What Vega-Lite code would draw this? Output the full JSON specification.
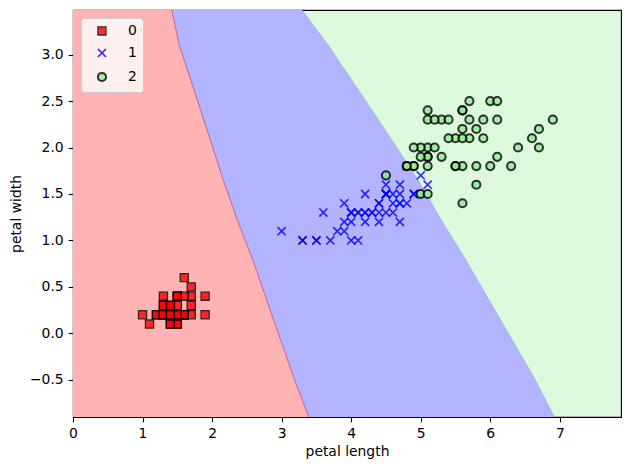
{
  "$schema": "https://vega.github.io/schema/vega-lite/v6.json",
  "width": 548,
  "height": 407,
  "autosize": "none",
  "padding": {"left": 73, "top": 10, "right": 9, "bottom": 53},
  "background": "white",
  "config": {
    "font": "DejaVu Sans",
    "view": {"stroke": "black", "strokeWidth": 1.1, "fill": "#ddf8dd"},
    "axis": {
      "grid": false,
      "labelFlush": false,
      "domainColor": "black",
      "domainWidth": 1.1,
      "tickColor": "black",
      "tickWidth": 1.1,
      "tickSize": 4.9,
      "labelPadding": 4.9,
      "labelFont": "DejaVu Sans",
      "labelFontSize": 13.9,
      "labelColor": "black",
      "titleFont": "DejaVu Sans",
      "titleFontSize": 13.9,
      "titleFontWeight": "normal",
      "titleColor": "black"
    }
  },
  "datasets": {
    "regions": [
      {"y": -0.9, "b1": 3.39, "b2": 6.92},
      {"y": -0.49, "b1": 3.18, "b2": 6.64},
      {"y": 0.8, "b1": 2.58, "b2": 5.64},
      {"y": 1.225, "b1": 2.36, "b2": 5.29},
      {"y": 1.653, "b1": 2.16, "b2": 4.96},
      {"y": 2.3, "b1": 1.88, "b2": 4.39},
      {"y": 3.1, "b1": 1.53, "b2": 3.67},
      {"y": 3.48, "b1": 1.42, "b2": 3.29}
    ],
    "iris": [
      {"pl": 1.4, "pw": 0.2, "c": "0"}, {"pl": 1.4, "pw": 0.2, "c": "0"}, {"pl": 1.3, "pw": 0.2, "c": "0"},
      {"pl": 1.5, "pw": 0.2, "c": "0"}, {"pl": 1.4, "pw": 0.2, "c": "0"}, {"pl": 1.7, "pw": 0.4, "c": "0"},
      {"pl": 1.4, "pw": 0.3, "c": "0"}, {"pl": 1.5, "pw": 0.2, "c": "0"}, {"pl": 1.4, "pw": 0.2, "c": "0"},
      {"pl": 1.5, "pw": 0.1, "c": "0"}, {"pl": 1.5, "pw": 0.2, "c": "0"}, {"pl": 1.6, "pw": 0.2, "c": "0"},
      {"pl": 1.4, "pw": 0.1, "c": "0"}, {"pl": 1.1, "pw": 0.1, "c": "0"}, {"pl": 1.2, "pw": 0.2, "c": "0"},
      {"pl": 1.5, "pw": 0.4, "c": "0"}, {"pl": 1.3, "pw": 0.4, "c": "0"}, {"pl": 1.4, "pw": 0.3, "c": "0"},
      {"pl": 1.7, "pw": 0.3, "c": "0"}, {"pl": 1.5, "pw": 0.3, "c": "0"}, {"pl": 1.7, "pw": 0.2, "c": "0"},
      {"pl": 1.5, "pw": 0.4, "c": "0"}, {"pl": 1.0, "pw": 0.2, "c": "0"}, {"pl": 1.7, "pw": 0.5, "c": "0"},
      {"pl": 1.9, "pw": 0.2, "c": "0"}, {"pl": 1.6, "pw": 0.2, "c": "0"}, {"pl": 1.6, "pw": 0.4, "c": "0"},
      {"pl": 1.5, "pw": 0.2, "c": "0"}, {"pl": 1.4, "pw": 0.2, "c": "0"}, {"pl": 1.6, "pw": 0.2, "c": "0"},
      {"pl": 1.6, "pw": 0.2, "c": "0"}, {"pl": 1.5, "pw": 0.4, "c": "0"}, {"pl": 1.5, "pw": 0.1, "c": "0"},
      {"pl": 1.4, "pw": 0.2, "c": "0"}, {"pl": 1.5, "pw": 0.2, "c": "0"}, {"pl": 1.2, "pw": 0.2, "c": "0"},
      {"pl": 1.3, "pw": 0.2, "c": "0"}, {"pl": 1.4, "pw": 0.1, "c": "0"}, {"pl": 1.3, "pw": 0.2, "c": "0"},
      {"pl": 1.5, "pw": 0.2, "c": "0"}, {"pl": 1.3, "pw": 0.3, "c": "0"}, {"pl": 1.3, "pw": 0.3, "c": "0"},
      {"pl": 1.3, "pw": 0.2, "c": "0"}, {"pl": 1.6, "pw": 0.6, "c": "0"}, {"pl": 1.9, "pw": 0.4, "c": "0"},
      {"pl": 1.4, "pw": 0.3, "c": "0"}, {"pl": 1.6, "pw": 0.2, "c": "0"}, {"pl": 1.4, "pw": 0.2, "c": "0"},
      {"pl": 1.5, "pw": 0.2, "c": "0"}, {"pl": 1.4, "pw": 0.2, "c": "0"},
      {"pl": 4.7, "pw": 1.4, "c": "1"}, {"pl": 4.5, "pw": 1.5, "c": "1"}, {"pl": 4.9, "pw": 1.5, "c": "1"},
      {"pl": 4.0, "pw": 1.3, "c": "1"}, {"pl": 4.6, "pw": 1.5, "c": "1"}, {"pl": 4.5, "pw": 1.3, "c": "1"},
      {"pl": 4.7, "pw": 1.6, "c": "1"}, {"pl": 3.3, "pw": 1.0, "c": "1"}, {"pl": 4.6, "pw": 1.3, "c": "1"},
      {"pl": 3.9, "pw": 1.4, "c": "1"}, {"pl": 3.5, "pw": 1.0, "c": "1"}, {"pl": 4.2, "pw": 1.5, "c": "1"},
      {"pl": 4.0, "pw": 1.0, "c": "1"}, {"pl": 4.7, "pw": 1.4, "c": "1"}, {"pl": 3.6, "pw": 1.3, "c": "1"},
      {"pl": 4.4, "pw": 1.4, "c": "1"}, {"pl": 4.5, "pw": 1.5, "c": "1"}, {"pl": 4.1, "pw": 1.0, "c": "1"},
      {"pl": 4.5, "pw": 1.5, "c": "1"}, {"pl": 3.9, "pw": 1.1, "c": "1"}, {"pl": 4.8, "pw": 1.8, "c": "1"},
      {"pl": 4.0, "pw": 1.3, "c": "1"}, {"pl": 4.9, "pw": 1.5, "c": "1"}, {"pl": 4.7, "pw": 1.2, "c": "1"},
      {"pl": 4.3, "pw": 1.3, "c": "1"}, {"pl": 4.4, "pw": 1.4, "c": "1"}, {"pl": 4.8, "pw": 1.4, "c": "1"},
      {"pl": 5.0, "pw": 1.7, "c": "1"}, {"pl": 4.5, "pw": 1.5, "c": "1"}, {"pl": 3.5, "pw": 1.0, "c": "1"},
      {"pl": 3.8, "pw": 1.1, "c": "1"}, {"pl": 3.7, "pw": 1.0, "c": "1"}, {"pl": 3.9, "pw": 1.2, "c": "1"},
      {"pl": 5.1, "pw": 1.6, "c": "1"}, {"pl": 4.5, "pw": 1.5, "c": "1"}, {"pl": 4.5, "pw": 1.6, "c": "1"},
      {"pl": 4.7, "pw": 1.5, "c": "1"}, {"pl": 4.4, "pw": 1.3, "c": "1"}, {"pl": 4.1, "pw": 1.3, "c": "1"},
      {"pl": 4.0, "pw": 1.3, "c": "1"}, {"pl": 4.4, "pw": 1.2, "c": "1"}, {"pl": 4.6, "pw": 1.4, "c": "1"},
      {"pl": 4.0, "pw": 1.2, "c": "1"}, {"pl": 3.3, "pw": 1.0, "c": "1"}, {"pl": 4.2, "pw": 1.3, "c": "1"},
      {"pl": 4.2, "pw": 1.2, "c": "1"}, {"pl": 4.2, "pw": 1.3, "c": "1"}, {"pl": 4.3, "pw": 1.3, "c": "1"},
      {"pl": 3.0, "pw": 1.1, "c": "1"}, {"pl": 4.1, "pw": 1.3, "c": "1"},
      {"pl": 6.0, "pw": 2.5, "c": "2"}, {"pl": 5.1, "pw": 1.9, "c": "2"}, {"pl": 5.9, "pw": 2.1, "c": "2"},
      {"pl": 5.6, "pw": 1.8, "c": "2"}, {"pl": 5.8, "pw": 2.2, "c": "2"}, {"pl": 6.6, "pw": 2.1, "c": "2"},
      {"pl": 4.5, "pw": 1.7, "c": "2"}, {"pl": 6.3, "pw": 1.8, "c": "2"}, {"pl": 5.8, "pw": 1.8, "c": "2"},
      {"pl": 6.1, "pw": 2.5, "c": "2"}, {"pl": 5.1, "pw": 2.0, "c": "2"}, {"pl": 5.3, "pw": 1.9, "c": "2"},
      {"pl": 5.5, "pw": 2.1, "c": "2"}, {"pl": 5.0, "pw": 2.0, "c": "2"}, {"pl": 5.1, "pw": 2.4, "c": "2"},
      {"pl": 5.3, "pw": 2.3, "c": "2"}, {"pl": 5.5, "pw": 1.8, "c": "2"}, {"pl": 6.7, "pw": 2.2, "c": "2"},
      {"pl": 6.9, "pw": 2.3, "c": "2"}, {"pl": 5.0, "pw": 1.5, "c": "2"}, {"pl": 5.7, "pw": 2.3, "c": "2"},
      {"pl": 4.9, "pw": 2.0, "c": "2"}, {"pl": 6.7, "pw": 2.0, "c": "2"}, {"pl": 4.9, "pw": 1.8, "c": "2"},
      {"pl": 5.7, "pw": 2.1, "c": "2"}, {"pl": 6.0, "pw": 1.8, "c": "2"}, {"pl": 4.8, "pw": 1.8, "c": "2"},
      {"pl": 4.9, "pw": 1.8, "c": "2"}, {"pl": 5.6, "pw": 2.1, "c": "2"}, {"pl": 5.8, "pw": 1.6, "c": "2"},
      {"pl": 6.1, "pw": 1.9, "c": "2"}, {"pl": 6.4, "pw": 2.0, "c": "2"}, {"pl": 5.6, "pw": 2.2, "c": "2"},
      {"pl": 5.1, "pw": 1.5, "c": "2"}, {"pl": 5.6, "pw": 1.4, "c": "2"}, {"pl": 6.1, "pw": 2.3, "c": "2"},
      {"pl": 5.6, "pw": 2.4, "c": "2"}, {"pl": 5.5, "pw": 1.8, "c": "2"}, {"pl": 4.8, "pw": 1.8, "c": "2"},
      {"pl": 5.4, "pw": 2.1, "c": "2"}, {"pl": 5.6, "pw": 2.4, "c": "2"}, {"pl": 5.1, "pw": 2.3, "c": "2"},
      {"pl": 5.1, "pw": 1.9, "c": "2"}, {"pl": 5.9, "pw": 2.3, "c": "2"}, {"pl": 5.7, "pw": 2.5, "c": "2"},
      {"pl": 5.2, "pw": 2.3, "c": "2"}, {"pl": 5.0, "pw": 1.9, "c": "2"}, {"pl": 5.2, "pw": 2.0, "c": "2"},
      {"pl": 5.4, "pw": 2.3, "c": "2"}, {"pl": 5.1, "pw": 1.8, "c": "2"}
    ]
  },
  "layer": [
    {
      "description": "class 0 decision region: from the left edge to the first boundary",
      "data": {"name": "regions"},
      "mark": {"type": "area", "orient": "horizontal", "color": "#ffb3b3", "opacity": 1, "clip": true},
      "encoding": {
        "y": {"field": "y", "type": "quantitative", "title": "petal width",
              "scale": {"domain": [-0.9, 3.48], "nice": false, "zero": false},
              "axis": {"values": [-0.5, 0, 0.5, 1, 1.5, 2, 2.5, 3], "format": ".1f", "titlePadding": 6}},
        "x": {"field": "b1", "type": "quantitative", "title": "petal length",
              "scale": {"domain": [0, 7.88], "nice": false, "zero": false},
              "axis": {"values": [0, 1, 2, 3, 4, 5, 6, 7], "format": "d", "titlePadding": 4}}
      }
    },
    {
      "description": "class 1 decision region: between the two boundaries",
      "data": {"name": "regions"},
      "mark": {"type": "area", "orient": "horizontal", "color": "#b3b3ff", "opacity": 1, "clip": true},
      "encoding": {
        "y": {"field": "y", "type": "quantitative", "title": "petal width"},
        "x": {"field": "b1", "type": "quantitative", "title": "petal length"},
        "x2": {"field": "b2"}
      }
    },
    {
      "data": {"name": "regions"},
      "mark": {"type": "line", "color": "#d0457a", "strokeWidth": 1, "opacity": 0.8, "clip": true},
      "encoding": {
        "y": {"field": "y", "type": "quantitative", "title": "petal width"},
        "x": {"field": "b1", "type": "quantitative", "title": "petal length"},
        "order": {"field": "y", "type": "quantitative"}
      }
    },
    {
      "data": {"name": "regions"},
      "mark": {"type": "line", "color": "#88bfd8", "strokeWidth": 1, "opacity": 0.8, "clip": true},
      "encoding": {
        "y": {"field": "y", "type": "quantitative", "title": "petal width"},
        "x": {"field": "b2", "type": "quantitative", "title": "petal length"},
        "order": {"field": "y", "type": "quantitative"}
      }
    },
    {
      "description": "samples by class",
      "data": {"name": "iris"},
      "mark": {"type": "point", "filled": true, "size": 66, "opacity": 0.8, "clip": true},
      "encoding": {
        "x": {"field": "pl", "type": "quantitative", "title": "petal length"},
        "y": {"field": "pw", "type": "quantitative", "title": "petal width"},
        "shape": {"field": "c", "type": "nominal",
                  "scale": {"domain": ["0", "1", "2"], "range": ["square", "M-1,-1L1,1M-1,1L1,-1", "circle"]},
                  "legend": {
                    "title": null, "orient": "none", "legendX": 8, "legendY": 8,
                    "padding": 6, "symbolOffset": 8, "labelOffset": 19, "rowPadding": 7,
                    "symbolSize": 66, "symbolOpacity": 0.8,
                    "labelFont": "DejaVu Sans", "labelFontSize": 13.9, "labelColor": "black",
                    "fillColor": "rgba(255,255,255,0.8)", "strokeColor": "#cccccc", "cornerRadius": 3
                  }},
        "fill": {"field": "c", "type": "nominal",
                 "scale": {"domain": ["0", "1", "2"], "range": ["red", "blue", "lightgreen"]}},
        "stroke": {"field": "c", "type": "nominal",
                   "scale": {"domain": ["0", "1", "2"], "range": ["black", "blue", "black"]}},
        "strokeWidth": {"field": "c", "type": "nominal",
                        "scale": {"domain": ["0", "1", "2"], "range": [1.3, 2, 1.3]}}
      }
    }
  ]
}
